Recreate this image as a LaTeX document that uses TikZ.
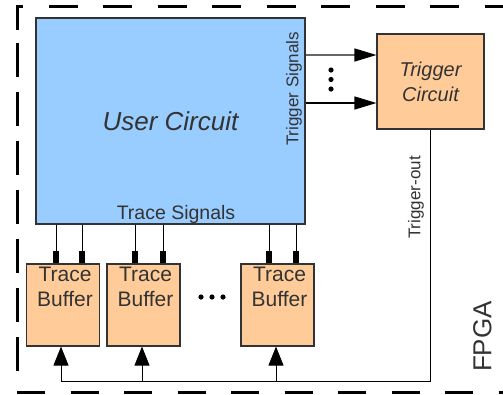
\documentclass[tikz,border=0pt]{standalone}
\usepackage{fontspec}
\setmainfont{Liberation Sans}
\usetikzlibrary{arrows.meta}
\definecolor{ucblue}{HTML}{99CCFF}
\definecolor{bforange}{HTML}{FFCC99}
\definecolor{txtgray}{HTML}{333333}
\tikzset{
  fpgaframe/.style={line width=3pt, black},
  ucbox/.style={draw=txtgray, line width=1.1pt, fill=ucblue, inner sep=0pt, minimum width=269pt, minimum height=206pt},
  tcbox/.style={draw=txtgray, line width=1.1pt, fill=bforange, inner sep=0pt, minimum width=107pt, minimum height=95pt, align=center},
  bufbox/.style={draw=txtgray, line width=1.1pt, fill=bforange, inner sep=0pt, minimum width=73pt, minimum height=82pt},
  trig/.style={line width=1.2pt, -{Triangle[length=22pt, width=13pt, black]}},
  trace/.style={line width=1pt, -{Rectangle[length=12pt, width=6pt]}},
  arm/.style={line width=0.9pt, -{Triangle[length=19pt, width=15pt]}},
}
\begin{document}
\begin{tikzpicture}[x=1pt, y=-1pt, text=txtgray]
  \useasboundingbox (0,0) rectangle (503,394);
  % FPGA frame
  \draw[fpgaframe, dash pattern=on 29pt off 25.5pt] (17.5,30) -- (17.5,6.5) -- (530,6.5);
  \draw[fpgaframe, dash pattern=on 34pt off 15pt] (17.5,43) -- (17.5,380);
  \draw[fpgaframe, dash pattern=on 28pt off 25.5pt] (17,392) -- (530,392);
  \node[rotate=90, font=\fontsize{26}{30}\selectfont] (fpga) at (482.5,336.5) {FPGA};

  % blocks
  \node[ucbox, font=\fontsize{26}{30}\selectfont\itshape] (uc) at (170.5,121) {User Circuit};
  \node[font=\fontsize{19.5}{23}\selectfont, anchor=south] (tsig) at ([yshift=-3pt]uc.south -| 176,0) {Trace Signals};
  \node[rotate=90, font=\fontsize{17}{20}\selectfont] (gsig) at (294,89) {Trigger Signals};
  \node[tcbox, font=\fontsize{20}{25}\selectfont\itshape] (tc) at (430.5,81.5) {Trigger\\Circuit};

  \foreach \n/\x in {1/63, 2/143.5, 3/277.5}
    \node[bufbox, label={[anchor=north, align=center, inner sep=0pt, yshift=-3pt, xshift=2pt, font=\fontsize{21}{25}\selectfont]north:Trace\\Buffer}] (tb\n) at (\x,305) {};

  % trigger signals
  \draw[trig, black!60] (uc.east |- 0,55) -- (tc.west |- 0,55);
  \draw[trig] (uc.east |- 0,103) -- (tc.west |- 0,103);
  \foreach \y in {70,79.5,89} \fill (331,\y) circle (2.6pt);

  % trace signals
  \foreach \n/\xa/\xb in {1/56/82, 2/135/163, 3/269/296} {
    \draw[trace] (uc.south -| \xa,0) -- (tb\n.north -| \xa,0);
    \draw[trace] (uc.south -| \xb,0) -- (tb\n.north -| \xb,0);
  }
  \foreach \x in {201,212,223} \fill (\x,297) circle (2.6pt);

  % trigger-out
  \coordinate (tout) at (430,381);
  \draw[line width=0.9pt] (tc.south -| tout) -- (tout) -- (61,381);
  \node[rotate=90, font=\fontsize{17}{20}\selectfont] (toutlab) at (416,197.5) {Trigger-out};
  \foreach \n/\x in {1/61, 2/142, 3/276}
    \draw[arm] (\x,381) -- (tb\n.south -| \x,0);
\end{tikzpicture}
\end{document}
